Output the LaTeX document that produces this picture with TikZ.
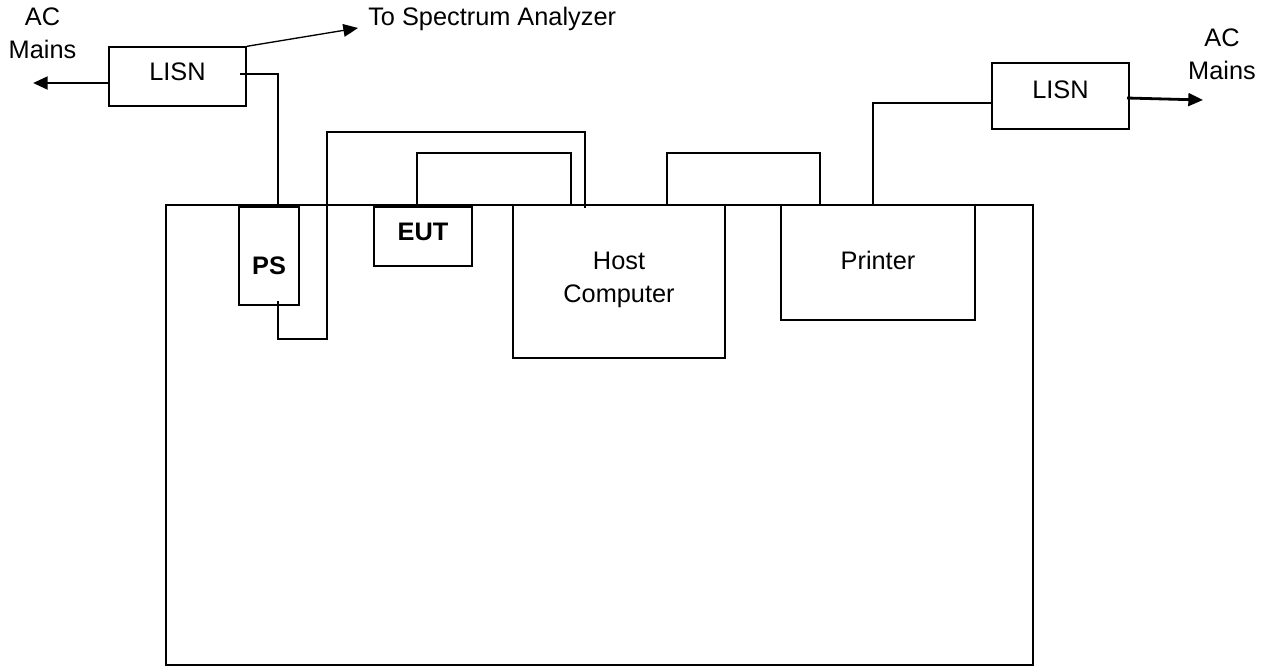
\documentclass[tikz,border=0pt]{standalone}
\usepackage{fontspec}
\setmainfont{Liberation Sans}
\usetikzlibrary{fit,arrows.meta,calc}
\begin{document}
\begin{tikzpicture}[x=0.75pt,y=-0.75pt,
  txt/.style={font=\fontsize{19}{24.75}\selectfont, inner sep=0pt, align=center},
  thinbox/.style={draw, line width=1pt, inner sep=0pt},
  thickbox/.style={draw, line width=2.2pt, inner sep=0pt},
  cable/.style={line width=2.1pt},
  thincable/.style={line width=1pt},
  arr/.style={line width=2.1pt, -{Triangle[length=11pt,width=9.5pt]}},
  thinarr/.style={line width=1pt, -{Triangle[length=11pt,width=9.5pt]}},
]
\useasboundingbox (0,0) rectangle (1274,668);

% table
\node[thickbox, fit={(166,205) (1033,665)}] (T) {};

% boxes
\node[thinbox, fit={(109,47) (246,106)},
  label={[txt, yshift=3.4pt]center:LISN}] (L1) {};
\node[thinbox, fit={(992,63) (1129,129)},
  label={[txt, yshift=4.5pt]center:LISN}] (L2) {};
\node[thickbox, fit={(239,207) (299,305)},
  label={[txt, font=\fontsize{19}{24.75}\selectfont\bfseries, yshift=-7pt]center:PS}] (PS) {};
\node[thickbox, fit={(374,207) (472,266)},
  label={[txt, font=\fontsize{19}{24.75}\selectfont\bfseries, yshift=3.75pt]center:EUT}] (EUT) {};
\node[thickbox, fit={(513,205) (725,358)},
  label={[txt, yshift=1.5pt]center:Host\\Computer}] (HC) {};
\node[thickbox, fit={(781,205) (975,320)},
  label={[txt, yshift=1.5pt]center:Printer}] (PR) {};

% texts
\node[txt] (acL) at (42.5,33.5) {AC\\Mains};
\node[txt] (acR) at (1222,54.5) {AC\\Mains};
\node[txt, anchor=base west] (spec) at (368,25) {To Spectrum Analyzer};

% coordinates
\coordinate (acLtip) at (33,83);
\coordinate (satip) at (358,28);
\coordinate (l1out) at (240,74);
\coordinate (psIn) at (278,205);
\coordinate (psOut) at (278,301);
\coordinate (k1) at (327,339);
\coordinate (k2) at (585,132);
\coordinate (hcIn) at (585,208);
\coordinate (e1) at (417,207);
\coordinate (h1) at (571,205);
\coordinate (h2) at (667,205);
\coordinate (p1) at (820,205);
\coordinate (p2) at (873,205);
\coordinate (l2in) at (992,103);
\coordinate (l2out) at (1127,98);
\coordinate (acRtip) at (1203,100);

% connectors
\draw[arr] (L1.west |- acLtip) -- (acLtip);
\draw[thinarr] (L1.north east) -- (satip);
\draw[cable] (l1out) -| (psIn);
\draw[thincable] (psOut) |- (k1) -- (k1 |- k2) -- (k2) -- (hcIn);
\draw[cable] (e1) -- ++(0,-54) -| (h1);
\draw[cable] (h2) -- ++(0,-52) -| (p1);
\draw[cable] (p2) |- (l2in);
\draw[arr] (l2out) -- (acRtip);
\end{tikzpicture}
\end{document}
